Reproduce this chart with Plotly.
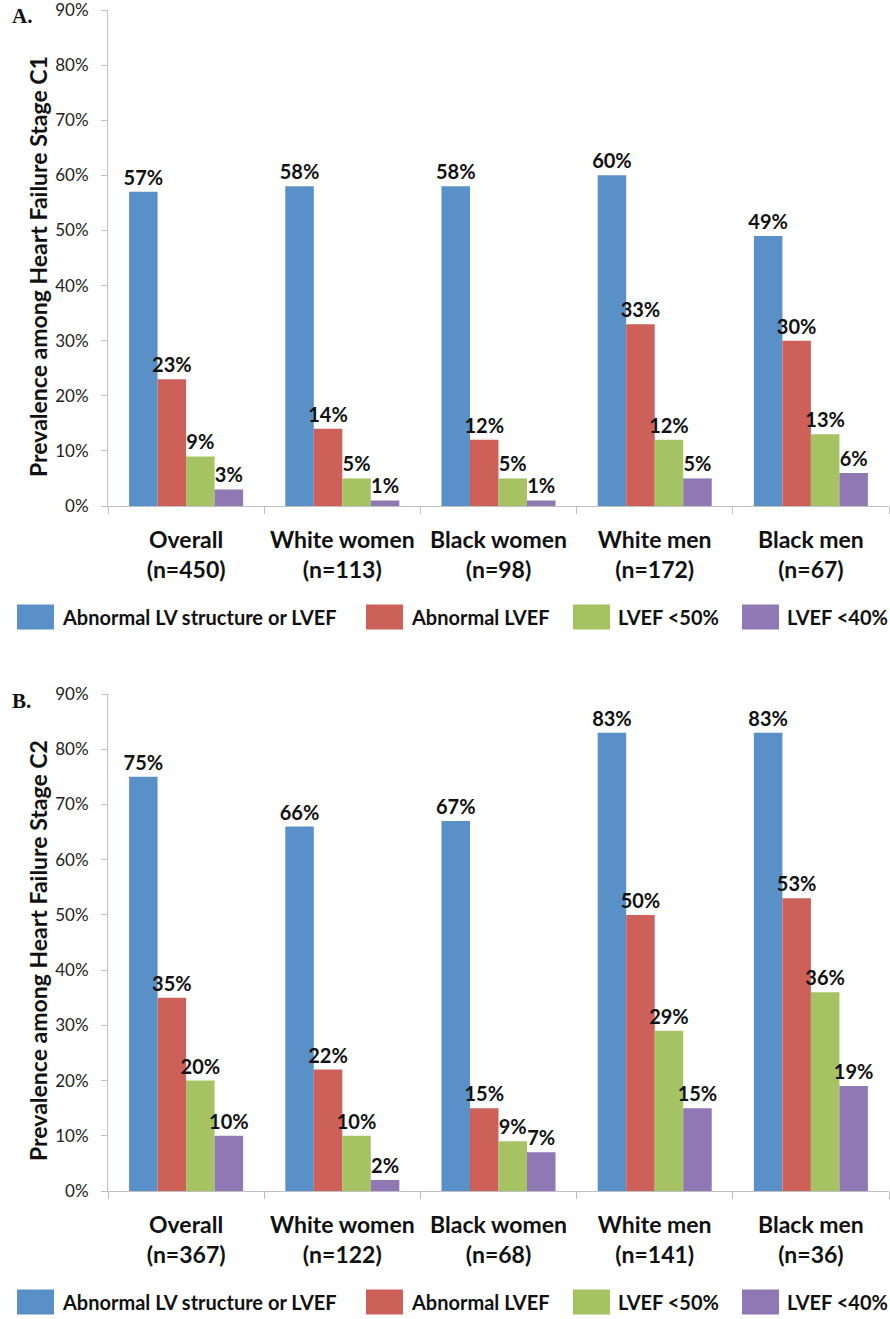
import plotly.graph_objects as go

# ---- data -------------------------------------------------------------
groups_c1 = ["Overall<br>(n=450)", "White women<br>(n=113)", "Black women<br>(n=98)",
             "White men<br>(n=172)", "Black men<br>(n=67)"]
groups_c2 = ["Overall<br>(n=367)", "White women<br>(n=122)", "Black women<br>(n=68)",
             "White men<br>(n=141)", "Black men<br>(n=36)"]

series_names = ["Abnormal LV structure or LVEF", "Abnormal LVEF", "LVEF <50%", "LVEF <40%"]

c1_lv_structure = [57, 58, 58, 60, 49]
c1_abnormal_lvef = [23, 14, 12, 33, 30]
c1_lvef_lt50 = [9, 5, 5, 12, 13]
c1_lvef_lt40 = [3, 1, 1, 5, 6]

c2_lv_structure = [75, 66, 67, 83, 83]
c2_abnormal_lvef = [35, 22, 15, 50, 53]
c2_lvef_lt50 = [20, 10, 9, 29, 36]
c2_lvef_lt40 = [10, 2, 7, 15, 19]

y_ticks = [0, 10, 20, 30, 40, 50, 60, 70, 80, 90]
y_tick_labels = ["0%", "10%", "20%", "30%", "40%", "50%", "60%", "70%", "80%", "90%"]

# ---- styling ----------------------------------------------------------
W, H = 890, 1319
colors = ["#5A90C8", "#CD6159", "#A6C364", "#8F78B4"]
FONT = "Lato"
AXIS_GRAY = "#BFBFBF"


def px_x(x):
    return x / W


def px_y(y):
    return 1 - y / H


fig = go.Figure()

panels = [
    ("x", "y", groups_c1, [c1_lv_structure, c1_abnormal_lvef, c1_lvef_lt50, c1_lvef_lt40]),
    ("x2", "y2", groups_c2, [c2_lv_structure, c2_abnormal_lvef, c2_lvef_lt50, c2_lvef_lt40]),
]

for xa, ya, cats, series in panels:
    for name, vals, col in zip(series_names, series, colors):
        fig.add_trace(go.Bar(
            x=cats, y=vals, name=name, xaxis=xa, yaxis=ya,
            marker=dict(color=col, line=dict(width=0)),
            text=[f"{v}%" for v in vals], textposition="outside",
            textfont=dict(family=FONT, size=20, color="#111111", weight="bold"),
            constraintext="none", cliponaxis=False, showlegend=False,
        ))

# plot areas (pixel positions converted to paper fractions)
x_dom = [px_x(108), px_x(889)]
dom_a = [px_y(506), px_y(10)]
dom_b = [px_y(1191), px_y(694)]

xaxis_common = dict(
    domain=x_dom, showline=True, linecolor=AXIS_GRAY, linewidth=1,
    ticks="outside", tickson="boundaries", ticklen=7, tickcolor=AXIS_GRAY,
    showgrid=False, zeroline=False, automargin=False, ticklabelstandoff=13,
    ticklabeloverflow="allow",
    tickfont=dict(family=FONT, size=23, color="#111111", weight="bold"),
)
yaxis_common = dict(
    range=[0, 90], tickmode="array", tickvals=y_ticks, ticktext=y_tick_labels,
    showline=True, linecolor=AXIS_GRAY, linewidth=1, ticks="outside", ticklen=6,
    tickcolor=AXIS_GRAY, showgrid=False, zeroline=False, automargin=False,
    ticklabelstandoff=9, ticklabeloverflow="allow",
    tickfont=dict(family=FONT, size=17, color="#222222"),
)

fig.update_layout(
    width=W, height=H, margin=dict(l=0, r=0, t=0, b=0),
    paper_bgcolor="white", plot_bgcolor="white",
    barmode="group", bargap=0.27, bargroupgap=0,
    xaxis=dict(**xaxis_common, anchor="y"),
    yaxis=dict(**yaxis_common, domain=dom_a, anchor="x"),
    xaxis2=dict(**xaxis_common, anchor="y2"),
    yaxis2=dict(**yaxis_common, domain=dom_b, anchor="x2"),
    showlegend=False,
)

annotations = []
shapes = []

# panel letters and y-axis titles
for letter, ly, title, mid in [("A.", 16, "Prevalence among Heart Failure Stage C1", 267),
                               ("B.", 701, "Prevalence among Heart Failure Stage C2", 951)]:
    annotations.append(dict(
        text=letter, x=px_x(10), y=px_y(ly), xref="paper", yref="paper",
        xanchor="left", yanchor="middle", showarrow=False,
        font=dict(family="Liberation Serif", size=21, color="#111111", weight="bold"),
    ))
    annotations.append(dict(
        text=title, x=px_x(38), y=px_y(mid), xref="paper", yref="paper",
        xanchor="center", yanchor="middle", showarrow=False, textangle=-90,
        font=dict(family=FONT, size=23, color="#111111", weight="bold"),
    ))

# legend rows below each panel
legend_swatch_x = [17, 366, 573, 742]
for center_y in (617, 1302):
    for sx, name, col in zip(legend_swatch_x, series_names, colors):
        shapes.append(dict(
            type="rect", xref="paper", yref="paper",
            x0=px_x(sx), x1=px_x(sx + 37),
            y0=px_y(center_y - 12.5), y1=px_y(center_y + 12.5),
            fillcolor=col, line=dict(width=0),
        ))
        annotations.append(dict(
            text=name, x=px_x(sx + 43), y=px_y(center_y), xref="paper", yref="paper",
            xanchor="left", yanchor="middle", showarrow=False,
            font=dict(family=FONT, size=20, color="#111111", weight="bold"),
        ))

fig.update_layout(annotations=annotations, shapes=shapes)

fig.write_html("out.html")
